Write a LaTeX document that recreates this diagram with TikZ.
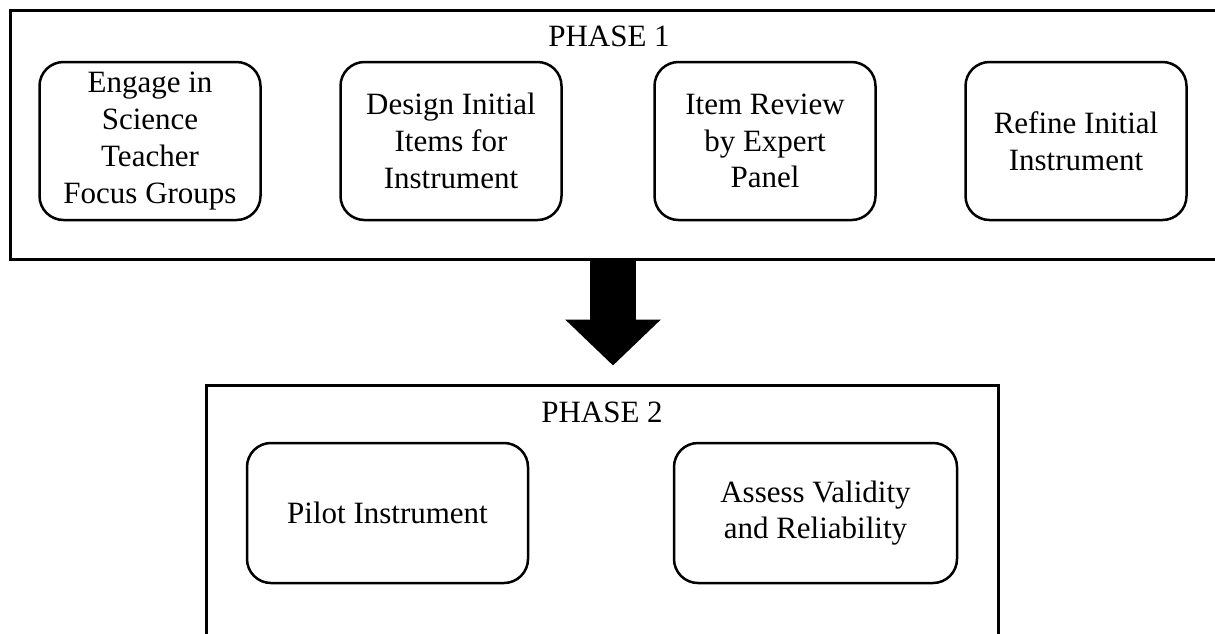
\documentclass[tikz,border=0pt]{standalone}
\usepackage{fontspec}
\setmainfont{Liberation Serif}
\usetikzlibrary{positioning,arrows.meta}

\begin{document}
\begin{tikzpicture}[x=0.5pt, y=-0.5pt, font=\fontsize{15.5}{18.35}\selectfont,
  frame/.style={draw=black, line width=1.5pt, inner sep=0pt},
  stepbox/.style={draw=black, line width=1.25pt, rounded corners=12pt, align=center, inner sep=0pt, minimum width=110.5pt, minimum height=79pt},
  bigarr/.style={line width=23pt, -{Triangle[length=23pt, width=46.5pt]}, shorten >=9pt}]
\useasboundingbox (0,0) rectangle (1215,633);
\clip (0,0) rectangle (1215,633);
% phase frames (phase 2 runs past the bottom edge)
\node[frame, minimum width=603pt, minimum height=124.5pt] (ph1) at (613,134.5) {};
\node[frame, minimum width=396pt, minimum height=137.5pt] (ph2) at (602,522.5) {};
\node (lab1) at (609,36) {PHASE 1};
\node (lab2) at (602,412) {PHASE 2};
% phase 1 steps
\node[stepbox] (focus) at (150,141) {Engage in\\Science\\Teacher\\Focus Groups};
\node[stepbox] (design) at (451,141) {Design Initial\\Items for\\Instrument};
\node[stepbox] (review) at (765,141) {Item Review\\by Expert\\Panel};
\node[stepbox] (refine) at (1076,141) {Refine Initial\\Instrument};
% phase 2 steps
\node[stepbox, minimum width=140.5pt, minimum height=70pt] (pilot) at (387.5,513) {Pilot Instrument};
\node[stepbox, minimum width=141.5pt, minimum height=70pt] (assess) at (815.5,513) {Assess Validity\\and Reliability};
\draw[bigarr] (ph1.south) -- (ph1.south |- ph2.north);
\end{tikzpicture}
\end{document}
